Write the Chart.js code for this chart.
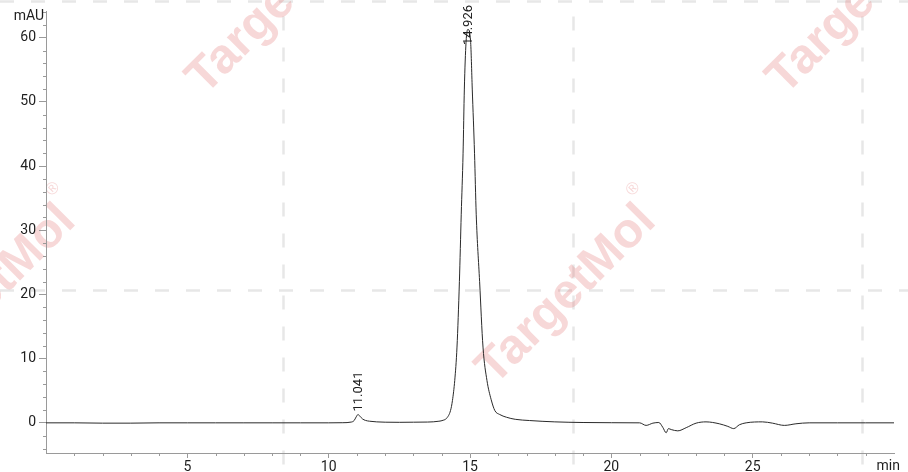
<!DOCTYPE html>
<html>
<head>
<meta charset="utf-8">
<script src="https://cdn.jsdelivr.net/npm/chart.js@4.4.1/dist/chart.umd.min.js"></script>
<style>
  html, body { margin: 0; padding: 0; background: #fff; }
  #wrap { width: 908px; height: 472px; position: relative; }
</style>
</head>
<body>
<div id="wrap"><canvas id="c" width="908" height="472"></canvas></div>
<script>
// ---- data ----
const times = [0, 1, 2, 3, 4, 5, 6, 7, 8, 9, 10, 10.5, 10.8, 10.9, 10.97, 11.041, 11.1, 11.2, 11.3, 11.45, 11.7, 12, 12.5, 13, 13.5, 13.9, 14.05, 14.17, 14.31, 14.38, 14.46, 14.54, 14.625, 14.69, 14.755, 14.8, 14.86, 14.926, 15.02, 15.08, 15.16, 15.22, 15.34, 15.46, 15.6, 15.75, 15.88, 16.05, 16.29, 16.6, 17.1, 18, 19, 20, 21, 21.23, 21.47, 21.68, 21.82, 21.94, 22.02, 22.12, 22.35, 22.65, 23.0, 23.35, 23.82, 24.12, 24.33, 24.53, 24.77, 25.35, 25.7, 26.12, 26.53, 27, 28, 29, 30];
const absorbance = [0, 0, -0.05, -0.05, 0, 0, 0, 0, 0, 0, 0, 0.02, 0.12, 0.35, 0.9, 1.3, 1.05, 0.6, 0.38, 0.25, 0.15, 0.1, 0.08, 0.1, 0.12, 0.25, 0.4, 0.7, 1.9, 3.5, 6.6, 11.8, 22, 32.5, 42, 52, 59.3, 61.3, 59.5, 52, 42, 32.5, 22, 11.8, 6.6, 3.6, 1.9, 1.3, 0.87, 0.55, 0.36, 0.15, 0.05, 0.02, 0, -0.4, -0.05, 0.05, -0.7, -1.55, -0.9, -1.05, -1.25, -0.75, -0.05, 0.15, -0.15, -0.55, -0.9, -0.3, 0, 0.15, -0.05, -0.4, -0.15, 0, 0, 0, 0];
const peakTimes = [11.041, 14.926];
const peakHeights = [1.3, 61.3];
const peakLabels = ['11.041', '14.926'];
const xTicks = [5, 10, 15, 20, 25];
const xMinorTicks = [1, 2, 3, 4, 6, 7, 8, 9, 11, 12, 13, 14, 16, 17, 18, 19, 21, 22, 23, 24, 26, 27, 28, 29];
const yTicks = [0, 10, 20, 30, 40, 50, 60];
const yMinorTicks = [-4, -2, 2, 4, 6, 8, 12, 14, 16, 18, 22, 24, 26, 28, 32, 34, 36, 38, 42, 44, 46, 48, 52, 54, 56, 58, 62, 64];
const xUnit = 'min';
const yUnit = 'mAU';

const FONT = 'Roboto, "DejaVu Sans", sans-serif';
const AXIS_COLOR = '#9a9a9a';
const TEXT_COLOR = '#1e1e1e';

const points = times.map((t, i) => ({ x: t, y: absorbance[i] }));

const backgroundPlugin = {
  id: 'bg',
  beforeDraw(chart) {
    const ctx = chart.ctx;
    const W = chart.width, H = chart.height;
    ctx.save();
    ctx.fillStyle = '#fff';
    ctx.fillRect(0, 0, W, H);
    // watermark tile grid (dashed)
    ctx.strokeStyle = '#e7e7e7';
    ctx.lineWidth = 2.5;
    ctx.setLineDash([14, 17]);
    [0.3117, 0.631, 0.9493].forEach(f => {
      ctx.beginPath();
      ctx.moveTo(Math.round(W * f) + 0.5, H * 0.035);
      ctx.lineTo(Math.round(W * f) + 0.5, H);
      ctx.stroke();
    });
    [0.003, 0.614].forEach(f => {
      ctx.beginPath();
      ctx.moveTo(0, Math.round(H * f) + 0.5);
      ctx.lineTo(W, Math.round(H * f) + 0.5);
      ctx.stroke();
    });
    ctx.setLineDash([]);
    // watermark text
    const marks = [[-0.015, 0.625], [0.624, 0.625], [0.305, 0.01], [0.944, 0.01]];
    ctx.fillStyle = 'rgba(225, 110, 110, 0.27)';
    marks.forEach(([fx, fy]) => {
      ctx.save();
      ctx.translate(W * fx, H * fy);
      ctx.rotate(-Math.PI / 4);
      ctx.font = 'bold 49px "Liberation Sans", Arial, sans-serif';
      ctx.textAlign = 'center';
      ctx.textBaseline = 'middle';
      ctx.fillText('TargetMol', 0, 0);
      ctx.font = '17px "Liberation Sans", Arial, sans-serif';
      ctx.fillText('®', 122, -28);
      ctx.restore();
    });
    ctx.restore();
  }
};

const annotPlugin = {
  id: 'annot',
  afterDraw(chart) {
    const ctx = chart.ctx;
    const xs = chart.scales.x, ys = chart.scales.y;
    const area = chart.chartArea;
    ctx.save();
    // minor ticks
    ctx.strokeStyle = AXIS_COLOR;
    ctx.lineWidth = 1;
    xMinorTicks.forEach(v => {
      const px = Math.round(xs.getPixelForValue(v)) + 0.5;
      ctx.beginPath();
      ctx.moveTo(px, area.bottom);
      ctx.lineTo(px, area.bottom + 3);
      ctx.stroke();
    });
    yMinorTicks.forEach(v => {
      const py = Math.round(ys.getPixelForValue(v)) + 0.5;
      ctx.beginPath();
      ctx.moveTo(area.left - 3, py);
      ctx.lineTo(area.left, py);
      ctx.stroke();
    });
    // unit labels
    ctx.fillStyle = TEXT_COLOR;
    ctx.font = '14px ' + FONT;
    ctx.textAlign = 'right';
    ctx.textBaseline = 'middle';
    ctx.fillText(yUnit, area.left - 2, area.top + 5);
    ctx.fillText(xUnit, chart.width - 8, area.bottom + 13);
    // peak labels
    ctx.font = '13px ' + FONT;
    peakTimes.forEach((t, i) => {
      const px = xs.getPixelForValue(t);
      const apex = ys.getPixelForValue(peakHeights[i]);
      const w = ctx.measureText(peakLabels[i]).width;
      const bottom = Math.max(apex - 3, 5 + w);
      ctx.save();
      ctx.translate(px, bottom);
      ctx.rotate(-Math.PI / 2);
      ctx.textAlign = 'left';
      ctx.textBaseline = 'middle';
      ctx.fillText(peakLabels[i], 0, 1);
      ctx.restore();
    });
    ctx.restore();
  }
};

new Chart(document.getElementById('c'), {
  type: 'line',
  data: {
    datasets: [{
      data: points,
      borderColor: '#2a2a2a',
      borderWidth: 1,
      pointRadius: 0,
      fill: false,
      cubicInterpolationMode: 'monotone'
    }]
  },
  options: {
    responsive: false,
    animation: false,
    devicePixelRatio: 1,
    layout: { padding: { top: 10, right: 14, left: 0, bottom: 0 } },
    plugins: { legend: { display: false }, tooltip: { enabled: false } },
    scales: {
      x: {
        type: 'linear',
        min: 0,
        max: 30,
        afterBuildTicks: s => { s.ticks = xTicks.map(v => ({ value: v })); },
        afterFit: s => { s.height = 19; },
        grid: { drawOnChartArea: false, drawTicks: true, tickLength: 5, color: AXIS_COLOR },
        border: { display: true, color: AXIS_COLOR, width: 1 },
        ticks: { color: TEXT_COLOR, font: { family: FONT, size: 14 }, padding: 1, maxRotation: 0, autoSkip: false }
      },
      y: {
        type: 'linear',
        min: -4.7,
        max: 64.1,
        afterBuildTicks: s => { s.ticks = yTicks.map(v => ({ value: v })); },
        afterFit: s => { s.width = 46; },
        grid: { drawOnChartArea: false, drawTicks: true, tickLength: 7, color: AXIS_COLOR },
        border: { display: true, color: AXIS_COLOR, width: 1 },
        ticks: { color: TEXT_COLOR, font: { family: FONT, size: 14 }, padding: 3, autoSkip: false }
      }
    }
  },
  plugins: [backgroundPlugin, annotPlugin]
});
</script>
</body>
</html>
